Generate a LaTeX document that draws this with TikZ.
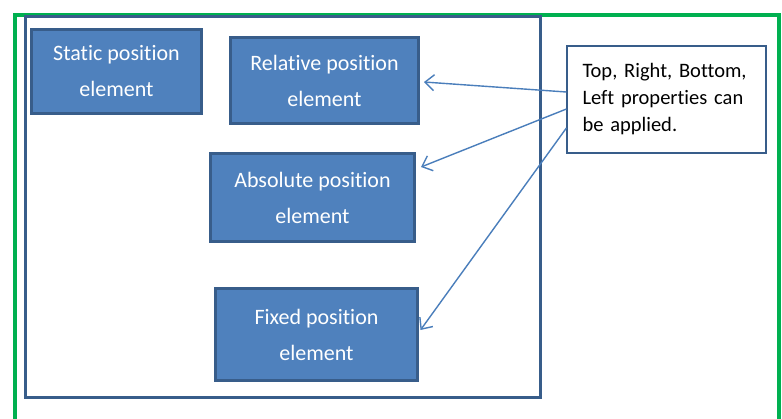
\documentclass[tikz,border=0pt]{standalone}
\usepackage{fontspec}
\setmainfont{Carlito}[Ligatures=NoCommon]
\usetikzlibrary{arrows.meta}
\definecolor{boxfill}{HTML}{4F81BD}
\definecolor{boxline}{HTML}{385D8A}
\definecolor{framegreen}{HTML}{00B050}
\definecolor{arrowblue}{HTML}{4A7EBB}
\tikzset{
  elem/.style={draw=boxline, line width=3pt, fill=boxfill, text=white, align=center,
    font=\fontsize{22}{36}\selectfont, inner sep=0pt},
  note/.style={draw=boxline, line width=1.2pt, fill=white, text=black, align=left,
    font=\fontsize{20.5}{27}\selectfont, inner sep=0pt},
  pointer/.style={draw=arrowblue, line width=1.4pt, -{Straight Barb[length=9pt,width=16pt,line width=1.4pt]}}
}
\begin{document}
\begin{tikzpicture}[x=1pt,y=-1pt]
\useasboundingbox (0,0) rectangle (782,418);
\fill[white] (0,0) rectangle (782,418);
% outer green frame
\draw[framegreen, line width=4pt] (15,419) -- (15,15) -- (779,15) -- (779,419);
% inner container
\draw[boxline, line width=3pt] (25.5,16.5) rectangle (540.5,397.5);
% elements
\node[elem, minimum width=170pt, minimum height=84pt] (static) at (116.5,71.5) {Static position\\element};
\node[elem, minimum width=188pt, minimum height=86pt] (rel) at (324.5,80.5) {Relative position\\element};
\node[elem, minimum width=204pt, minimum height=88pt] (abs) at (312.5,197.5) {Absolute position\\element};
\node[elem, minimum width=202pt, minimum height=92pt] (fix) at (316.5,334.5) {Fixed position\\element};
% callout
\node[note, minimum width=199pt, minimum height=107pt, text width=168pt] (callout) at (666.5,99.5) {Top, Right, Bottom,\\Left properties can\\be applied.};
% pointers
\draw[pointer] ([yshift=7.5pt]callout.west) -- ([xshift=4pt,yshift=-1.5pt]rel.east);
\draw[pointer] ([yshift=-9.5pt]callout.west) -- ([xshift=5pt,yshift=30.5pt]abs.east);
\draw[pointer] ([yshift=-28.5pt]callout.west) -- ([xshift=1.5pt,yshift=4.5pt]fix.east);
\end{tikzpicture}
\end{document}
